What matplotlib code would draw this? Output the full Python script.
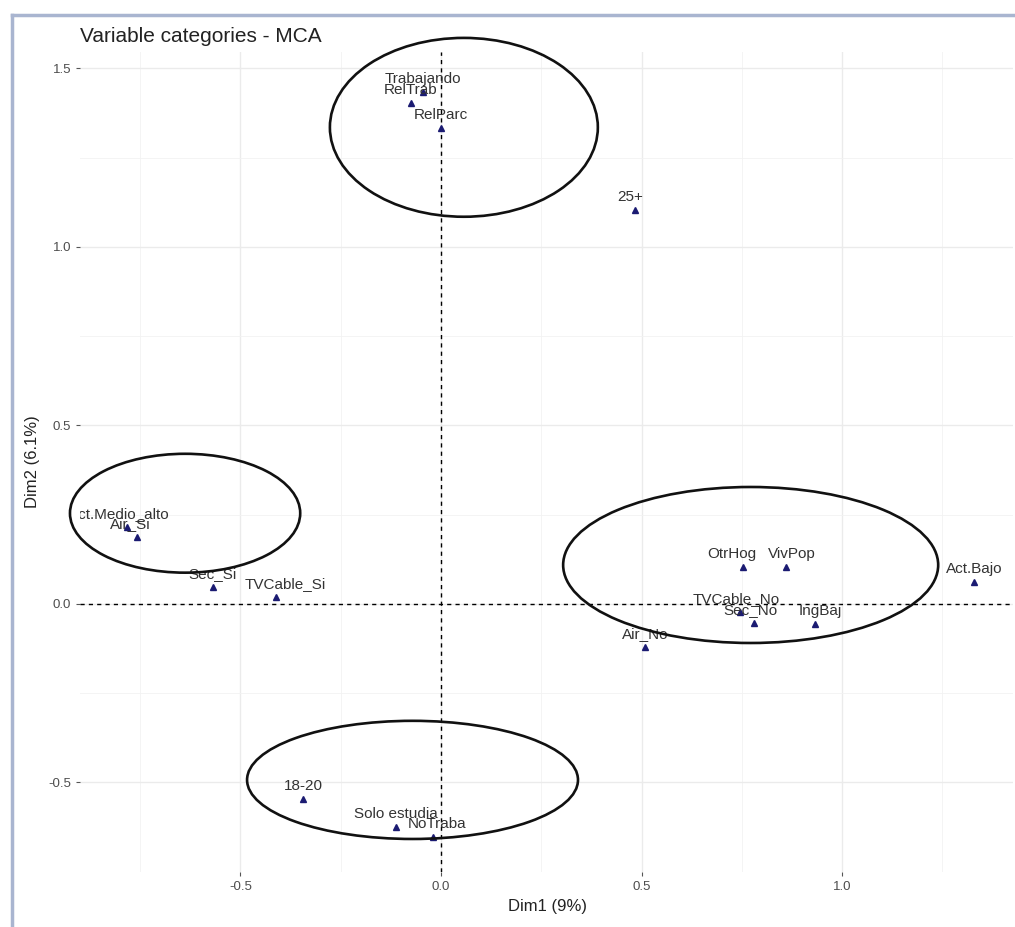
import matplotlib.pyplot as plt
from matplotlib.patches import Ellipse
from matplotlib.lines import Line2D

plt.rcParams['font.family'] = ['Liberation Sans', 'DejaVu Sans']
plt.rcParams['axes.unicode_minus'] = False

# MCA variable categories (Dim1, Dim2)
labels = ['Trabajando', 'RelTrab', 'RelParc', '25+', 'Act.Medio_alto', 'Air_Si',
          'Sec_Si', 'TVCable_Si', 'OtrHog', 'VivPop', 'Act.Bajo', 'TVCable_No',
          'Sec_No', 'IngBaj', 'Air_No', '18-20', 'Solo estudia', 'NoTraba']
dim1 = [-0.045, -0.075, 0.0, 0.484, -0.783, -0.758,
        -0.569, -0.411, 0.753, 0.860, 1.329, 0.746,
        0.781, 0.933, 0.509, -0.344, -0.112, -0.020]
dim2 = [1.434, 1.403, 1.333, 1.104, 0.216, 0.188,
        0.048, 0.020, 0.104, 0.104, 0.062, -0.022,
        -0.053, -0.056, -0.120, -0.546, -0.625, -0.653]

# hand-drawn group ellipses: centre x, centre y, width, height
ell_x = [0.057, -0.638, 0.772, -0.071]
ell_y = [1.335, 0.254, 0.109, -0.493]
ell_w = [0.668, 0.574, 0.935, 0.825]
ell_h = [0.501, 0.333, 0.437, 0.331]

# label shifts (pixels) where the repel moved text sideways
nudge = {'25+': -5, 'Act.Medio_alto': -8, 'Air_Si': -7, 'TVCable_Si': 9, 'OtrHog': -11,
         'VivPop': 6, 'TVCable_No': -4, 'Sec_No': -4, 'IngBaj': 5, 'NoTraba': 4}

fig = plt.figure(figsize=(10.15, 9.27), dpi=100)
ax = fig.add_axes([80 / 1015, 1 - 872 / 927, 933 / 1015, 820 / 927])

ax.set_xlim(-0.900, 1.426)
ax.set_ylim(-0.751, 1.546)
ax.set_xticks([-0.5, 0.0, 0.5, 1.0])
ax.set_yticks([-0.5, 0.0, 0.5, 1.0, 1.5])
ax.set_xticks([-0.75, -0.25, 0.25, 0.75, 1.25], minor=True)
ax.set_yticks([-0.25, 0.25, 0.75, 1.25], minor=True)
ax.grid(which='major', color='#ebebeb', lw=1.0)
ax.grid(which='minor', color='#f2f2f2', lw=0.6)
ax.set_axisbelow(True)
for s in ax.spines.values():
    s.set_visible(False)
ax.tick_params(which='major', length=3, color='#555555', labelcolor='#4d4d4d',
               labelsize=9.5, width=0.8)
ax.tick_params(which='minor', length=0)

ax.axhline(0, color='black', lw=1.0, ls=(0, (3, 3)), zorder=2)
ax.axvline(0, color='black', lw=1.0, ls=(0, (3, 3)), zorder=2)

ax.plot(dim1, dim2, ls='none', marker='^', ms=5, color='#1b1b72', zorder=3)
for lab, x, y in zip(labels, dim1, dim2):
    t = ax.annotate(lab, (x, y), xytext=(nudge.get(lab, 0), 13), textcoords='offset pixels',
                    ha='center', va='center', fontsize=11, color='#333333', zorder=4)
    t.set_clip_box(ax.bbox)
    t.set_clip_on(True)

for cx, cy, w, h in zip(ell_x, ell_y, ell_w, ell_h):
    ax.add_patch(Ellipse((cx, cy), w, h, fill=False, ec='#111111', lw=1.9,
                         clip_on=False, zorder=5))

fig.text(80 / 1015, 1 - 37 / 927, 'Variable categories - MCA', fontsize=15,
         color='#222222', ha='left', va='center')
fig.text(548 / 1015, 1 - 907 / 927, 'Dim1 (9%)', fontsize=12, color='#222222',
         ha='center', va='center')
fig.text(33 / 1015, 1 - 462 / 927, 'Dim2 (6.1%)', fontsize=12, color='#222222',
         ha='center', va='center', rotation=90)

# screenshot frame
fig.add_artist(Line2D([12 / 1015, 12 / 1015], [0, 1 - 15 / 927], color='#a9b5d0', lw=2.5))
fig.add_artist(Line2D([12 / 1015, 1], [1 - 15 / 927, 1 - 15 / 927], color='#a9b5d0', lw=2.5))

fig.savefig('out.png', dpi=100)
